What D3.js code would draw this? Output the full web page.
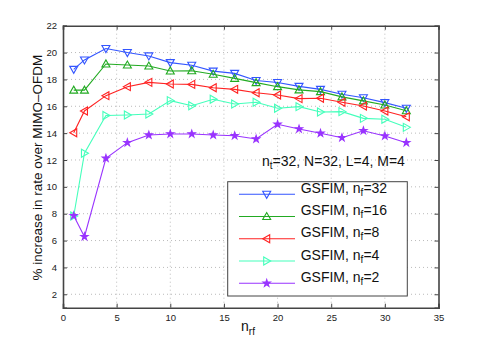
<!DOCTYPE html>
<html><head><meta charset="utf-8">
<script src="https://cdn.jsdelivr.net/npm/d3@7"></script>
<style>body{margin:0;background:#fff}svg{display:block;font-family:"Liberation Sans",Arial,sans-serif}</style>
</head><body><svg id="c" width="485" height="346"></svg>
<script>
const nrf = [1,2,4,6,8,10,12,14,16,18,20,22,24,26,28,30,32];
const gsfim32 = [18.75,19.45,20.3,20.0,19.75,19.25,19.05,18.62,18.45,17.92,17.77,17.48,17.26,16.9,16.64,16.27,15.85];
const gsfim16 = [17.2,17.2,19.15,19.07,19.0,18.63,18.65,18.38,18.08,17.76,17.46,17.22,17.09,16.7,16.4,16.1,15.67];
const gsfim8  = [14.03,15.65,16.79,17.46,17.78,17.66,17.63,17.38,17.26,17.01,16.84,16.57,16.6,16.3,16.02,15.65,15.22];
const gsfim4  = [7.83,12.5,15.31,15.35,15.42,16.42,16.04,16.52,16.17,16.3,15.85,15.97,15.57,15.6,15.1,15.03,14.43];
const gsfim2  = [7.85,6.29,12.13,13.29,13.86,13.94,13.94,13.86,13.81,13.56,14.66,14.31,13.99,13.66,14.18,13.79,13.29];
const seriesNames = ["32","16","8","4","2"];
const xTicks = [0,5,10,15,20,25,30,35];
const yTicks = [2,4,6,8,10,12,14,16,18,20,22];

const series = [
  {nf:seriesNames[0], vals:gsfim32, color:"#3355ff", marker:"down"},
  {nf:seriesNames[1], vals:gsfim16, color:"#22aa22", marker:"up"},
  {nf:seriesNames[2], vals:gsfim8,  color:"#ff2222", marker:"left"},
  {nf:seriesNames[3], vals:gsfim4,  color:"#44ffbb", marker:"right"},
  {nf:seriesNames[4], vals:gsfim2,  color:"#9933ff", marker:"star"}
];

const svg = d3.select("#c");
const L=63, R=438.5, T=25.7, B=307.7;
const x = d3.scaleLinear().domain([0,35]).range([L,R]);
const y = d3.scaleLinear().domain([1,22]).range([B,T]);

// grid
const g = svg.append("g");
g.selectAll(".gx").data(xTicks.slice(1,-1)).enter().append("line")
  .attr("x1",d=>x(d)).attr("x2",d=>x(d)).attr("y1",T).attr("y2",B)
  .attr("stroke","#bbb").attr("stroke-width",1).attr("stroke-dasharray","1,3");
g.selectAll(".gy").data(yTicks.filter(d=>d<22)).enter().append("line")
  .attr("x1",L).attr("x2",R).attr("y1",d=>y(d)).attr("y2",d=>y(d))
  .attr("stroke","#bbb").attr("stroke-width",1).attr("stroke-dasharray","1,3");

// axes
const xa = svg.append("g").attr("transform",`translate(0,${B})`)
  .call(d3.axisBottom(x).tickValues(xTicks).tickSize(-4).tickPadding(7).tickFormat(d3.format("d")));
const xa2 = svg.append("g").attr("transform",`translate(0,${T})`)
  .call(d3.axisTop(x).tickValues(xTicks).tickSize(-4).tickFormat(""));
const ya = svg.append("g").attr("transform",`translate(${L},0)`)
  .call(d3.axisLeft(y).tickValues(yTicks).tickSize(-4).tickPadding(6).tickFormat(d3.format("d")));
const ya2 = svg.append("g").attr("transform",`translate(${R},0)`)
  .call(d3.axisRight(y).tickValues(yTicks).tickSize(-4).tickFormat(""));
[xa,xa2,ya,ya2].forEach(a=>{
  a.select(".domain").attr("stroke","#444").attr("stroke-width",1.6);
  a.selectAll(".tick line").attr("stroke","#444");
  a.selectAll("text").attr("font-size","9.5px").attr("fill","#222").attr("font-family","Liberation Sans, Arial, sans-serif");
});

function markerPath(type, s){
  if(type==="down") return `M${-s},${-s*0.75}L${s},${-s*0.75}L0,${s}Z`;
  if(type==="up") return `M${-s},${s*0.75}L${s},${s*0.75}L0,${-s}Z`;
  if(type==="left") return `M${s*0.75},${-s}L${s*0.75},${s}L${-s},0Z`;
  if(type==="right") return `M${-s*0.75},${-s}L${-s*0.75},${s}L${s},0Z`;
  return d3.symbol().type(d3.symbolStar).size(16)();
}
const line = d3.line().x(d=>x(d[0])).y(d=>y(d[1]));
series.forEach(s=>{
  const pts = nrf.map((n,i)=>[n,s.vals[i]]);
  svg.append("path").datum(pts).attr("d",line).attr("fill","none")
    .attr("stroke",s.color).attr("stroke-width",1.1);
  svg.selectAll(null).data(pts).enter().append("path")
    .attr("transform",d=>`translate(${x(d[0])},${y(d[1])})`)
    .attr("d",markerPath(s.marker,4))
    .attr("fill",s.marker==="star"?s.color:"none")
    .attr("stroke",s.color).attr("stroke-width",1.1);
});

// annotation
const ann = svg.append("text").attr("x",262).attr("y",166).attr("font-size","14px").attr("fill","#111");
ann.append("tspan").text("n");
ann.append("tspan").attr("font-size","10px").attr("dy",3).text("t");
ann.append("tspan").attr("dy",-3).text("=32, N=32, L=4, M=4");

// legend
const lg = svg.append("g");
lg.append("rect").attr("x",227.7).attr("y",181.7).attr("width",179.6).attr("height",114.3)
  .attr("fill","#fff").attr("stroke","#444").attr("stroke-width",1);
series.forEach((s,i)=>{
  const ly = 194.3 + i*22.25;
  lg.append("line").attr("x1",239).attr("x2",295).attr("y1",ly).attr("y2",ly)
    .attr("stroke",s.color).attr("stroke-width",1.1);
  lg.append("path").attr("transform",`translate(266.7,${ly})`).attr("d",markerPath(s.marker,4))
    .attr("fill",s.marker==="star"?s.color:"none").attr("stroke",s.color).attr("stroke-width",1.1);
  const t = lg.append("text").attr("x",300.7).attr("y",ly-1.5).attr("font-size","14px").attr("fill","#111");
  t.append("tspan").text("GSFIM, n");
  t.append("tspan").attr("font-size","10px").attr("dy",3).text("f");
  t.append("tspan").attr("dy",-3).text("="+s.nf);
});

// axis labels
const xl = svg.append("text").attr("x",241).attr("y",331).attr("font-size","14px").attr("fill","#111");
xl.append("tspan").text("n");
xl.append("tspan").attr("font-size","10px").attr("dy",4).text("rf");
svg.append("text").attr("transform",`translate(42,${(T+B)/2+1}) rotate(-90)`)
  .attr("text-anchor","middle").attr("font-size","13.5px").attr("fill","#111")
  .text("% increase in rate over MIMO\u2013OFDM");
</script></body></html>
